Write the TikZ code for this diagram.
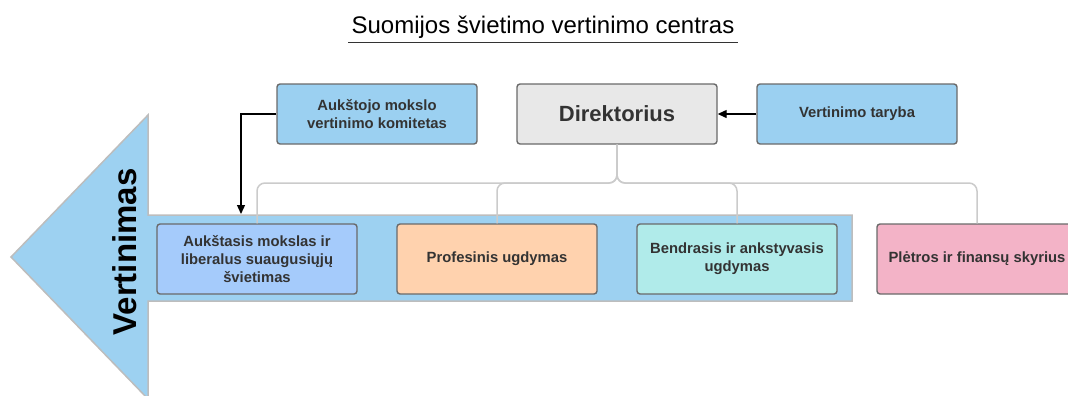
\documentclass[tikz,border=0pt]{standalone}
\usepackage{fontspec}
\setmainfont{Liberation Sans}
\usepackage{xcolor}
\usetikzlibrary{arrows.meta}
\definecolor{arrowbg}{HTML}{9DD1F1}
\definecolor{edge}{HTML}{BDBDBD}
\definecolor{frame}{HTML}{6A6A6A}
\definecolor{ink}{HTML}{333333}
\definecolor{skyblue}{HTML}{9BD0F1}
\definecolor{greybox}{HTML}{E8E8E8}
\definecolor{periw}{HTML}{A5CBFB}
\definecolor{peach}{HTML}{FFD2AE}
\definecolor{mint}{HTML}{B0EBEA}
\definecolor{rose}{HTML}{F3B3C7}
\definecolor{treeline}{HTML}{CBCBCB}
\tikzset{
  box/.style={draw=frame, line width=1.4pt, rounded corners=3pt, minimum width=200pt, minimum height=70pt, align=center, text=ink, inner sep=0pt, font=\fontsize{14.8}{17.8}\selectfont\bfseries},
  topbox/.style={box, minimum height=60pt},
  tree/.style={draw=treeline, line width=1.5pt, rounded corners=8pt},
  link/.style={draw=black, line width=1.3pt, -{Triangle[length=9pt,width=8pt]}},
  bigarrow/.style={fill=arrowbg, draw=edge, line width=1.5pt, line join=miter},
}

\begin{document}
\begin{tikzpicture}[x=1pt, y=-1pt]
  \useasboundingbox (0,0) rectangle (1068,396);

  % evaluation arrow
  \draw[bigarrow] (11,257) -- (148,115) -- (148,215) -- (852,215) -- (852,301) -- (148,301) -- (148,399) -- cycle;
  \node[font=\fontsize{33}{33}\selectfont\bfseries, rotate=90] (vert) at (125,252) {Vertinimas};

  \node[font=\fontsize{24}{24}\selectfont, anchor=base] (title) at (543,34) {Suomijos švietimo vertinimo centras};
  \draw[draw=ink, line width=1.5pt] (title.south west) -- (title.south east);

  \node[topbox, fill=skyblue] (amvk) at (377,114) {Aukštojo mokslo\\vertinimo komitetas};
  \node[topbox, fill=greybox, font=\fontsize{22}{26}\selectfont\bfseries] (dir) at (617,114) {Direktorius};
  \node[topbox, fill=skyblue] (taryba) at (857,114) {Vertinimo taryba};

  \node[box, fill=periw] (aukst) at (257,259) {Aukštasis mokslas ir\\liberalus suaugusiųjų\\švietimas};
  \node[box, fill=peach] (prof) at (497,259) {Profesinis ugdymas};
  \node[box, fill=mint] (bendr) at (737,259) {Bendrasis ir ankstyvasis\\ugdymas};
  \node[box, fill=rose] (pletr) at (977,259) {Plėtros ir finansų skyrius};

  % org lines
  \coordinate (bus) at (617,183);
  \foreach \b in {aukst,prof,bendr,pletr}
    \draw[tree] (dir.south) -- (bus) -| (\b.north);

  \coordinate (drop) at (241,214);
  \draw[link] (amvk.west) -| (drop);
  \draw[link] (taryba.west) -- (dir.east);
\end{tikzpicture}
\end{document}
